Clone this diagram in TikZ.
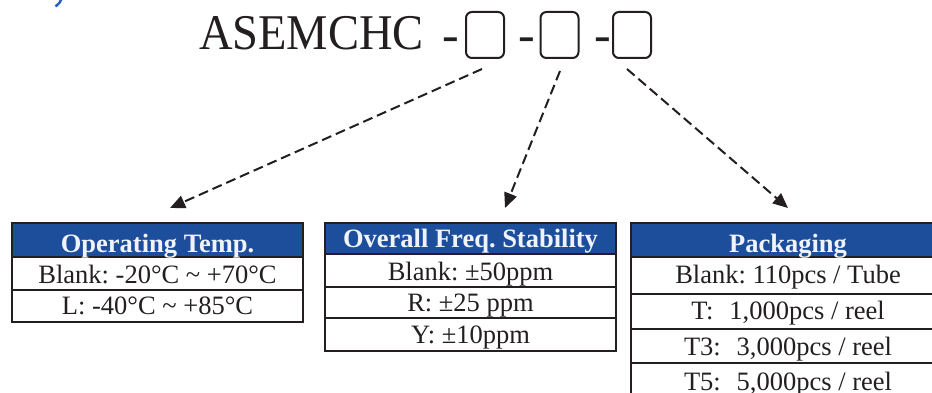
\documentclass[tikz,border=0pt]{standalone}
\usepackage{fontspec}
\setmainfont{Liberation Serif}
\usetikzlibrary{arrows.meta}
\definecolor{hdrblue}{HTML}{1C4E9C}
\definecolor{ink}{HTML}{231F20}
\definecolor{hdrtext}{HTML}{F0F3FA}
\definecolor{fragblue}{HTML}{2A5CB8}
\begin{document}
\begin{tikzpicture}[x=1pt,y=-1pt,
  every node/.style={inner sep=0pt, outer sep=0pt},
  cell/.style n args={2}{draw=ink, line width=2pt, fill=white, minimum width=#1, minimum height=#2, anchor=north west},
  hdr/.style n args={2}{draw=ink, line width=2pt, fill=hdrblue, minimum width=#1, minimum height=#2, anchor=north west},
  hdrtxt/.style={anchor=base, font=\fontsize{26.5}{26.5}\selectfont\bfseries, text=hdrtext},
  bodytxt/.style={anchor=base, font=\fontsize{26.5}{26.5}\selectfont, text=ink},
  pbox/.style={draw=ink, line width=2pt, rounded corners=6pt, minimum width=38pt, minimum height=46pt},
  dashtxt/.style={anchor=base, font=\fontsize{50}{50}\selectfont, text=ink},
  arr/.style={draw=ink, line width=2pt, dash pattern=on 10pt off 5pt, -{Triangle[length=15pt,width=13pt]}}
]
\clip (0,0) rectangle (932,393);
\frenchspacing
% fragment of blue text at top left
\draw[fragblue, line width=2.4pt] (61.5,-1) .. controls (60,2.5) .. (55.5,6.5);

% title
\node[anchor=base west, font=\fontsize{50}{50}\selectfont, text=ink] (title) at (199,50) {\scalebox{0.93}[1]{ASEMCHC}};
\node[dashtxt] (d1) at (450.5,52) {-};
\node[dashtxt] (d2) at (526.5,52) {-};
\node[dashtxt] (d3) at (602.5,52) {-};
\node[pbox] (b1) at (485,35) {};
\node[pbox] (b2) at (559.5,35) {};
\node[pbox] (b3) at (632,35) {};

% table 1
\node[hdr={291pt}{34pt}] (t1h) at (12,223) {};
\node[cell={291pt}{33pt}] (t1a) at (12,257) {};
\node[cell={291pt}{32pt}] (t1b) at (12,290) {};
\node[hdrtxt] (t1ht) at (157.5,252) {Operating Temp.};
\node[bodytxt] (t1at) at (157.5,283) {Blank: -20°C \textasciitilde{} +70°C};
\node[bodytxt] (t1bt) at (157.5,314) {L: -40°C \textasciitilde{} +85°C};

% table 2
\node[hdr={291pt}{31pt}] (t2h) at (325,223) {};
\node[cell={291pt}{33pt}] (t2a) at (325,254) {};
\node[cell={291pt}{31pt}] (t2b) at (325,287) {};
\node[cell={291pt}{33pt}] (t2c) at (325,318) {};
\node[hdrtxt] (t2ht) at (470.5,247) {Overall Freq. Stability};
\node[bodytxt] (t2at) at (470.5,280) {Blank: ±50ppm};
\node[bodytxt] (t2bt) at (470.5,311) {R: ±25 ppm};
\node[bodytxt] (t2ct) at (470.5,343) {Y: ±10ppm};

% table 3
\node[hdr={314pt}{34pt}] (t3h) at (631,223) {};
\node[cell={314pt}{37pt}] (t3a) at (631,257) {};
\node[cell={314pt}{35pt}] (t3b) at (631,294) {};
\node[cell={314pt}{34pt}] (t3c) at (631,329) {};
\node[cell={314pt}{36pt}] (t3d) at (631,363) {};
\node[hdrtxt] (t3ht) at (788,252) {Packaging};
\node[bodytxt] (t3at) at (788,283) {Blank: 110pcs / Tube};
\node[bodytxt] (t3bt) at (788,319) {T:\hspace{0.6em}1,000pcs / reel};
\node[bodytxt] (t3ct) at (788,355) {T3:\hspace{0.6em}3,000pcs / reel};
\node[bodytxt] (t3dt) at (788,390) {T5:\hspace{0.6em}5,000pcs / reel};

% arrows
\coordinate (s1) at ([xshift=-3pt,yshift=-11pt]b1.south);
\coordinate (s2) at ([xshift=0.5pt,yshift=-13pt]b2.south);
\coordinate (s3) at ([xshift=-5pt,yshift=-11pt]b3.south);
\coordinate (e1) at ([xshift=12.5pt,yshift=15pt]t1h.north);
\coordinate (e2) at ([xshift=34.5pt,yshift=15pt]t2h.north);
\coordinate (e3) at ([xshift=0pt,yshift=15pt]t3h.north);
\draw[arr] (s1) -- (e1);
\draw[arr] (s2) -- (e2);
\draw[arr] (s3) -- (e3);
\end{tikzpicture}
\end{document}
